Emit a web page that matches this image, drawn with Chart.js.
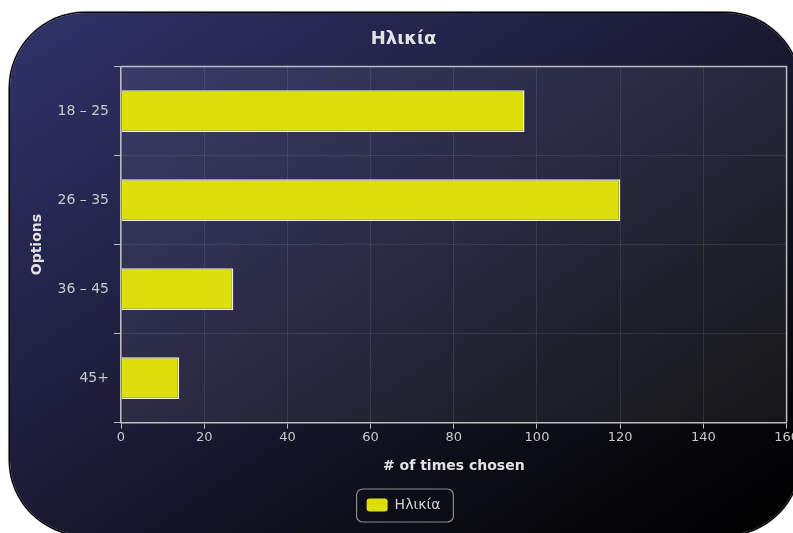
<!DOCTYPE html>
<html>
<head>
<meta charset="utf-8">
<title>Ηλικία</title>
<script src="https://cdn.jsdelivr.net/npm/chart.js@4.4.1/dist/chart.umd.min.js"></script>
<style>
  html, body { margin: 0; padding: 0; background: #fff; overflow: hidden; }
  #panel {
    position: absolute; left: 10px; top: 13px; width: 790px; height: 522px;
    border-radius: 75px; overflow: hidden;
    background: linear-gradient(to bottom right, #30336b 0%, #1c1c38 45%, #09090f 80%, #000 100%);
    box-shadow: 0 0 0 1.5px #000, 0 0 3px rgba(0,0,0,0.6);
  }
  #wrap { position: absolute; left: 0; top: 0; width: 790px; height: 520px; }
</style>
</head>
<body>
<div id="panel"><div id="wrap"><canvas id="chart"></canvas></div></div>
<script>
const categories = ['18 – 25', '26 – 35', '36 – 45', '45+'];
const counts = [97, 120, 27, 14];
const seriesName = 'Ηλικία';
const xTicksMax = 160;

const FONT = 'DejaVu Sans';
const TEXT = '#c9c9c9';
const LINE = '#bdbdbd';

// light wash behind the plot plus the top/right frame lines
const plotFrame = {
  id: 'plotFrame',
  beforeDraw(chart) {
    const { ctx, chartArea: a } = chart;
    ctx.save();
    ctx.fillStyle = 'rgba(255,255,255,0.07)';
    ctx.fillRect(a.left, a.top, a.right - a.left, a.bottom - a.top);
    ctx.restore();
  },
  afterDatasetsDraw(chart) {
    const { ctx, chartArea: a } = chart;
    ctx.save();
    ctx.strokeStyle = LINE;
    ctx.lineWidth = 1.5;
    ctx.beginPath();
    ctx.moveTo(a.left, a.top);
    ctx.lineTo(a.right, a.top);
    ctx.lineTo(a.right, a.bottom);
    ctx.stroke();
    ctx.restore();
  }
};

// rounded box around the legend item
const legendFrame = {
  id: 'legendFrame',
  afterDraw(chart) {
    const hb = chart.legend && chart.legend.legendHitBoxes[0];
    if (!hb) return;
    const { ctx } = chart;
    ctx.save();
    ctx.strokeStyle = '#8a8a8a';
    ctx.lineWidth = 1.2;
    ctx.beginPath();
    ctx.roundRect(hb.left - 10, hb.top - 9, hb.width + 23, hb.height + 19, 6);
    ctx.stroke();
    ctx.restore();
  }
};

const ctx = document.getElementById('chart').getContext('2d');
const chart = new Chart(ctx, {
  type: 'bar',
  data: {
    labels: categories,
    datasets: [{
      label: seriesName,
      data: counts,
      backgroundColor: '#dcdf0b',
      borderColor: '#f0f0d6',
      borderWidth: 1.5,
      barPercentage: 0.47,
      categoryPercentage: 1
    }]
  },
  options: {
    indexAxis: 'y',
    responsive: true,
    maintainAspectRatio: false,
    animation: false,
    layout: { padding: { left: 3, right: 6, top: 0, bottom: 11 } },
    plugins: {
      title: {
        display: true,
        text: seriesName,
        color: '#e2e2e2',
        font: { family: FONT, size: 18, weight: 'bold' },
        padding: { top: 16, bottom: 16 }
      },
      legend: {
        position: 'bottom',
        labels: {
          color: '#cfcfcf',
          font: { family: FONT, size: 14 },
          boxWidth: 21,
          boxHeight: 13,
          useBorderRadius: true,
          borderRadius: 3,
          padding: 10,
          generateLabels(c) {
            return Chart.defaults.plugins.legend.labels.generateLabels(c).map(l => {
              l.strokeStyle = l.fillStyle;
              l.lineWidth = 0;
              return l;
            });
          }
        }
      },
      tooltip: { enabled: false }
    },
    scales: {
      x: {
        min: 0,
        max: xTicksMax,
        ticks: { stepSize: 20, color: TEXT, font: { family: FONT, size: 13 }, padding: 1 },
        grid: { color: 'rgba(255,255,255,0.09)', tickColor: LINE, tickLength: 6 },
        border: { color: LINE, width: 1.5 },
        title: {
          display: true,
          text: '# of times chosen',
          color: '#e2e2e2',
          font: { family: FONT, size: 14, weight: 'bold' },
          padding: { top: 12, bottom: 13 }
        }
      },
      y: {
        ticks: { color: TEXT, font: { family: FONT, size: 14 }, padding: 5 },
        grid: { color: 'rgba(255,255,255,0.09)', tickColor: LINE, tickLength: 7 },
        border: { color: LINE, width: 1.5 },
        title: {
          display: true,
          text: 'Options',
          color: '#e2e2e2',
          font: { family: FONT, size: 14, weight: 'bold' },
          padding: { top: 16, bottom: 4 }
        },
        afterFit(scale) { scale.width = 108; }
      }
    }
  },
  plugins: [plotFrame, legendFrame]
});
</script>
</body>
</html>
